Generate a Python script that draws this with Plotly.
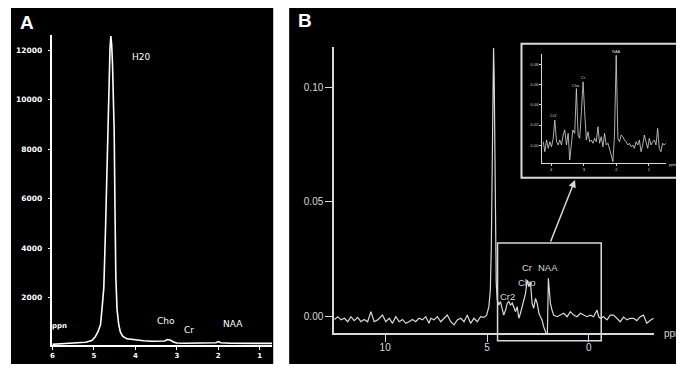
import plotly.graph_objects as go

# ---------------- data ----------------
# Panel A: full spectrum (water unsuppressed)
ppm_a = [6.0, 5.7, 5.4, 5.2, 5.05, 4.97, 4.90, 4.84, 4.80, 4.76, 4.72, 4.68, 4.64, 4.61,
         4.59, 4.57, 4.55, 4.51, 4.49, 4.47, 4.44, 4.40, 4.36, 4.30, 4.20, 4.0, 3.8, 3.6,
         3.4, 3.3, 3.22, 3.15, 3.08, 3.0, 2.8, 2.5, 2.2, 2.06, 2.0, 1.94, 1.7, 1.4, 1.1, 0.8, 0.7]
int_a = [110, 130, 150, 190, 260, 400, 620, 900, 1600, 2400, 4700, 7600, 10400, 12100,
         12560, 12200, 11400, 8700, 5500, 2800, 1500, 900, 600, 430, 330, 280, 250, 230,
         220, 240, 300, 270, 200, 160, 150, 150, 150, 170, 220, 170, 150, 150, 150, 145, 145]
yticks_a = [2000, 4000, 6000, 8000, 10000, 12000]
xticks_a = [6, 5, 4, 3, 2, 1]

# Panel B: water-suppressed spectrum
ppm_b = [12.49, 12.33, 12.17, 12.00, 11.84, 11.68, 11.52, 11.35, 11.19, 11.03, 10.86, 10.70,
         10.54, 10.37, 10.13, 9.97, 9.80, 9.64, 9.48, 9.31, 9.15, 8.99, 8.83, 8.66, 8.50,
         8.34, 8.17, 8.01, 7.85, 7.76, 7.60, 7.44, 7.27, 7.11, 6.95, 6.78, 6.62, 6.46, 6.29,
         6.13, 5.97, 5.81, 5.64, 5.48, 5.32, 5.15, 5.02, 4.91, 4.84, 4.79, 4.75, 4.71, 4.68,
         4.65, 4.62, 4.59, 4.55, 4.50, 4.42, 4.34, 4.25, 4.18, 4.09, 4.01, 3.93, 3.85, 3.76,
         3.69, 3.60, 3.52, 3.44, 3.36, 3.27, 3.20, 3.11, 3.03, 2.95, 2.87, 2.79, 2.71, 2.62,
         2.54, 2.45, 2.38, 2.30, 2.22, 2.13, 2.07, 2.04, 1.99, 1.92, 1.89, 1.81, 1.73, 1.56,
         1.40, 1.24, 1.07, 0.91, 0.75, 0.58, 0.42, 0.26, 0.10, -0.07, -0.23, -0.40, -0.48,
         -0.56, -0.72, -0.89, -1.05, -1.21, -1.38, -1.54, -1.70, -1.87, -2.03, -2.19, -2.35,
         -2.52, -2.68, -2.84, -3.00, -3.17]
int_b = [-0.0015, -0.0003, -0.0017, -0.0010, -0.0025, -0.0003, -0.0020, -0.0006, -0.0025,
         -0.0015, -0.0025, 0.0019, -0.0025, -0.0017, 0.0004, -0.0025, -0.0010, -0.0032,
         -0.0003, -0.0025, -0.0015, -0.0032, -0.0025, -0.0015, -0.0025, -0.0010, -0.0017,
         -0.0003, -0.0032, -0.0010, -0.0017, -0.0003, -0.0025, -0.0010, 0.0004, -0.0025,
         -0.0039, -0.0017, -0.0010, -0.0025, 0.0004, -0.0032, -0.0010, -0.0025, -0.0003,
         -0.0006, 0.0004, 0.0041, 0.0110, 0.0300, 0.0700, 0.1000, 0.1172, 0.1050, 0.0800,
         0.0450, 0.0150, 0.0070, 0.0048, 0.0063, 0.0026, 0.0004, 0.0026, 0.0056, 0.0063,
         0.0048, 0.0056, 0.0041, 0.0019, 0.0041, -0.0010, 0.0012, 0.0048, 0.0070, 0.0099,
         0.0157, 0.0128, 0.0150, 0.0056, 0.0034, 0.0077, 0.0056, 0.0012, -0.0003, -0.0017,
         -0.0047, -0.0069, -0.0090, -0.0090, 0.0165, 0.0080, 0.0056, 0.0026, 0.0004, -0.0003,
         0.0004, 0.0012, -0.0003, 0.0019, 0.0004, -0.0003, 0.0012, 0.0004, -0.0003, 0.0004,
         -0.0003, 0.0026, -0.0003, -0.0010, -0.0003, -0.0017, 0.0004, 0.0004, -0.0010,
         -0.0025, -0.0005, -0.0017, -0.0010, -0.0010, -0.0020, -0.0003, 0.0004, -0.0032,
         -0.0020, -0.0010]
yticks_b = [0.0, 0.05, 0.10]
yticktext_b = ["0.00", "0.05", "0.10"]
xticks_b = [10, 5, 0]

# Inset: zoom of the metabolite region
ppm_c = [4.245, 4.196, 4.144, 4.092, 4.043, 3.991, 3.939, 3.890, 3.838, 3.786, 3.737, 3.685,
         3.633, 3.584, 3.532, 3.480, 3.431, 3.379, 3.336, 3.278, 3.226, 3.174, 3.125, 3.073,
         3.021, 2.972, 2.920, 2.868, 2.819, 2.768, 2.716, 2.667, 2.615, 2.563, 2.514, 2.462,
         2.410, 2.361, 2.309, 2.257, 2.208, 2.156, 2.104, 2.055, 2.003, 1.951, 1.902, 1.850,
         1.798, 1.749, 1.697, 1.645, 1.596, 1.544, 1.492, 1.443, 1.391, 1.339, 1.290, 1.239,
         1.187, 1.138, 1.086, 1.034, 0.985, 0.933, 0.881, 0.832, 0.780, 0.728, 0.679, 0.627,
         0.575, 0.526, 0.474]
int_c = [0.0035, -0.0063, 0.0052, -0.0030, 0.0035, -0.0014, 0.0069, 0.0249, 0.0035, 0.0003,
         0.0052, 0.0003, 0.0101, 0.0151, 0.0003, 0.0118, -0.0145, 0.0052, 0.0151, 0.0118,
         0.0561, 0.0101, 0.0069, 0.0331, 0.0626, 0.0331, 0.0052, 0.0134, 0.0035, 0.0052,
         0.0020, 0.0069, 0.0035, 0.0183, 0.0020, 0.0085, -0.0014, 0.0118, 0.0003, 0.0020,
         -0.0030, -0.0096, -0.0162, 0.0101, 0.0889, 0.0069, 0.0035, 0.0101, 0.0085, 0.0052,
         0.0035, 0.0003, 0.0020, -0.0014, 0.0003, -0.0030, 0.0035, 0.0003, 0.0052, -0.0063,
         0.0003, 0.0101, 0.0035, -0.0030, 0.0069, 0.0003, 0.0035, 0.0052, 0.0003, 0.0167,
         -0.0030, -0.0063, 0.0020, 0.0003, 0.0020]
yticks_c = [0.0, 0.02, 0.04, 0.06, 0.08]
yticktext_c = ["0.00", "0.02", "0.04", "0.06", "0.08"]
xticks_c = [4, 3, 2, 1]

# ---------------- layout helpers (page pixel -> paper) ----------------
# the page body has an 8px margin, so the figure is shifted by (8, 8)
OX, OY = 8, 8
W, H = 676, 368
def px(x):
    return (x - OX) / W
def py(y):
    return 1 - (y - OY) / H

WHITE = "#ffffff"
GRAY = "#d9d9d9"
FA = "DejaVu Sans"
FB = "Liberation Sans"

def label(text, x, y, family, size, color):
    return dict(text=text, x=px(x), y=py(y), xref="paper", yref="paper", showarrow=False,
                xanchor="center", yanchor="middle",
                font=dict(family=family, size=size, color=color))

fig = go.Figure()
fig.add_trace(go.Scatter(x=ppm_a, y=int_a, mode="lines", xaxis="x", yaxis="y",
                         line=dict(color=WHITE, width=1.6), showlegend=False, hoverinfo="skip"))
fig.add_trace(go.Scatter(x=ppm_b, y=int_b, mode="lines", xaxis="x2", yaxis="y2",
                         line=dict(color=GRAY, width=1.2), showlegend=False, hoverinfo="skip"))
fig.add_trace(go.Scatter(x=ppm_c, y=int_c, mode="lines", xaxis="x3", yaxis="y3",
                         line=dict(color=GRAY, width=0.8), showlegend=False, hoverinfo="skip"))

shapes = [
    # black panels
    dict(type="rect", xref="paper", yref="paper", x0=px(9), x1=px(272), y0=py(364), y1=1,
         fillcolor="black", line=dict(width=0), layer="below"),
    dict(type="rect", xref="paper", yref="paper", x0=px(288), x1=1, y0=py(364), y1=1,
         fillcolor="black", line=dict(width=0), layer="below"),
    # zoom box in panel B
    dict(type="rect", xref="paper", yref="paper", x0=px(497), x1=px(601), y0=py(340.7), y1=py(243),
         fillcolor="rgba(0,0,0,0)", line=dict(color=GRAY, width=1.5), layer="above"),
    # inset frame
    dict(type="rect", xref="paper", yref="paper", x0=px(521), x1=px(683), y0=py(177.7), y1=py(43.7),
         fillcolor="black", line=dict(color=GRAY, width=2), layer="below"),
]

annotations = [
    label("<b>A</b>", 25, 22, FB, 19, WHITE),
    label("<b>B</b>", 303.5, 21, FB, 19, WHITE),
    # panel A labels
    label("H20", 139, 57, FA, 9, WHITE),
    label("Cho", 164, 321, FA, 9, WHITE),
    label("Cr", 188, 330, FA, 9, WHITE),
    label("NAA", 232, 324, FA, 9, WHITE),
    label("<b>ppn</b>", 57.5, 326, FA, 7, WHITE),
    # panel B labels
    label("Cr2", 507, 296, FB, 9.5, GRAY),
    label("Cho", 526, 282, FB, 9.5, GRAY),
    label("Cr", 527, 267, FB, 9.5, GRAY),
    label("NAA", 547.5, 267, FB, 9.5, GRAY),
    label("ppm", 673, 333, FB, 10, GRAY),
    # inset labels
    label("Cr2", 553.5, 116, FB, 4, GRAY),
    label("Cho", 576, 85, FB, 4, GRAY),
    label("Cr", 583, 77, FB, 4, GRAY),
    label("NAA", 616.5, 51.5, FB, 4, GRAY),
    label("ppm", 673, 164, FB, 4, GRAY),
    # arrow from zoom box to inset
    dict(text="", x=px(574.7), y=py(180), ax=-25, ay=63, xref="paper", yref="paper",
         showarrow=True, arrowhead=2, arrowsize=1, arrowwidth=1.5, arrowcolor=GRAY, standoff=0),
]

fig.update_layout(
    width=W, height=H,
    margin=dict(l=0, r=0, t=0, b=0),
    paper_bgcolor="white",
    plot_bgcolor="rgba(0,0,0,0)",
    showlegend=False,
    shapes=shapes,
    annotations=annotations,
    # ---- panel A ----
    xaxis=dict(domain=[px(50.5), px(271)], range=[6, 0.70], anchor="y",
               tickvals=xticks_a, ticktext=[str(v) for v in xticks_a],
               showline=True, linecolor=WHITE, linewidth=1.5,
               ticks="outside", ticklen=3, tickcolor=WHITE, tickwidth=1,
               tickfont=dict(family=FA, size=7, color=WHITE, weight="bold"),
               showgrid=False, zeroline=False),
    yaxis=dict(domain=[py(345), py(35)], range=[81, 12606], anchor="x",
               tickvals=yticks_a, ticktext=[str(v) for v in yticks_a],
               showline=True, linecolor=WHITE, linewidth=1.5,
               ticks="outside", ticklen=3, tickcolor=WHITE, tickwidth=1,
               ticklabelstandoff=4,
               tickfont=dict(family=FA, size=7.5, color=WHITE, weight="bold"),
               showgrid=False, zeroline=False),
    # ---- panel B ----
    xaxis2=dict(domain=[px(333), px(654)], range=[12.51, -3.20], anchor="y2",
                tickvals=xticks_b, ticktext=[str(v) for v in xticks_b],
                showline=True, linecolor=GRAY, linewidth=1.5,
                ticks="outside", ticklen=7, tickcolor=GRAY, tickwidth=1.2,
                ticklabelstandoff=-3,
                tickfont=dict(family=FB, size=10, color=GRAY),
                showgrid=False, zeroline=False),
    yaxis2=dict(domain=[py(333), py(47)], range=[-0.00743, 0.1176], anchor="x2",
                tickvals=yticks_b, ticktext=yticktext_b,
                showline=True, linecolor=GRAY, linewidth=1.5,
                ticks="outside", ticklen=7, tickcolor=GRAY, tickwidth=1.2,
                tickfont=dict(family=FB, size=10, color=GRAY),
                showgrid=False, zeroline=False),
    # ---- inset ----
    xaxis3=dict(domain=[px(541.7), px(666)], range=[4.28, 0.47], anchor="y3",
                tickvals=xticks_c, ticktext=[str(v) for v in xticks_c],
                showline=True, linecolor=GRAY, linewidth=0.8,
                ticks="outside", ticklen=2, tickcolor=GRAY, tickwidth=0.8,
                tickfont=dict(family=FB, size=4, color=GRAY),
                showgrid=False, zeroline=False),
    yaxis3=dict(domain=[py(163.3), py(54)], range=[-0.0178, 0.0902], anchor="x3",
                tickvals=yticks_c, ticktext=yticktext_c,
                showline=True, linecolor=GRAY, linewidth=0.8,
                ticks="outside", ticklen=2, tickcolor=GRAY, tickwidth=0.8,
                tickfont=dict(family=FB, size=4, color=GRAY),
                showgrid=False, zeroline=False),
)

fig.write_html("out.html")
